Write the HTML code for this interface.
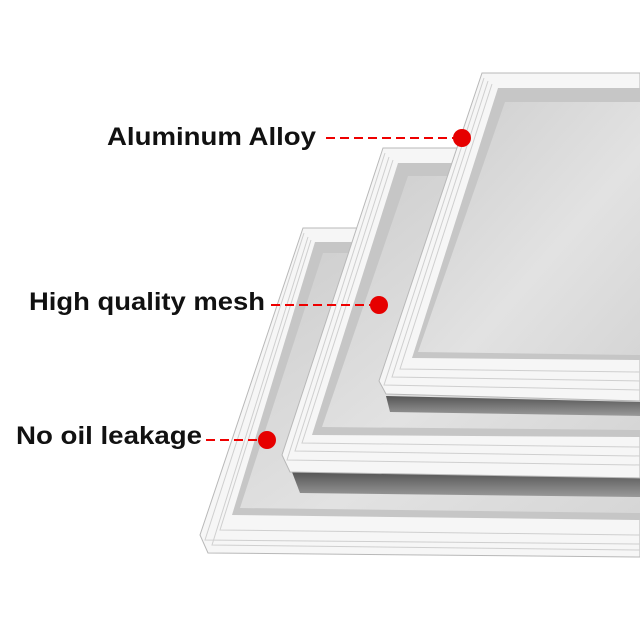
<!DOCTYPE html>
<html><head><meta charset="utf-8"><style>html,body{margin:0;padding:0;background:#fff}svg{display:block}</style></head>
<body>
<svg width="640" height="640" viewBox="0 0 640 640" xmlns="http://www.w3.org/2000/svg">
<defs>
<linearGradient id="mesh" x1="0" y1="0" x2="1" y2="1">
<stop offset="0" stop-color="#cdcdcd"/><stop offset="0.6" stop-color="#e2e2e2"/><stop offset="1" stop-color="#d6d6d6"/></linearGradient>
<linearGradient id="sh" x1="0" y1="0" x2="0" y2="1">
<stop offset="0" stop-color="#555"/><stop offset="1" stop-color="#9a9a9a"/></linearGradient>
</defs>
<!-- Frame 3 -->
<polygon points="303,228 640,228 640,557 208,553 200,535" fill="#f6f6f6" stroke="#b8b8b8" stroke-width="1"/>
<polygon points="315,242 640,242 640,520 232,515" fill="#c6c6c6"/>
<polygon points="323,253 640,253 640,513 240,508" fill="url(#mesh)"/>
<g stroke="#cfcfcf" stroke-width="1" fill="none">
<polyline points="304,233 205,540 640,544"/><polyline points="308,237 212,545 640,550"/><polyline points="311,240 220,530 640,535"/>
</g>
<polygon points="292,472 640,478 640,497 300,493" fill="url(#sh)"/>
<!-- Frame 2 -->
<polygon points="383,148 640,148 640,478 290,472 282,455" fill="#f6f6f6" stroke="#b8b8b8" stroke-width="1"/>
<polygon points="398,163 640,163 640,437 312,435" fill="#c6c6c6"/>
<polygon points="408,176 640,176 640,430 322,427" fill="url(#mesh)"/>
<g stroke="#cfcfcf" stroke-width="1" fill="none">
<polyline points="385,153 287,460 640,465"/><polyline points="389,157 295,451 640,456"/><polyline points="393,160 302,443 640,447"/>
</g>
<polygon points="386,396 640,402 640,416 390,412" fill="url(#sh)"/>
<!-- Frame 1 -->
<polygon points="482,73 640,73 640,401 386,394 379,381" fill="#f6f6f6" stroke="#b8b8b8" stroke-width="1"/>
<polygon points="498,88 640,88 640,360 412,358" fill="#c6c6c6"/>
<polygon points="505,102 640,102 640,355 418,352" fill="url(#mesh)"/>
<g stroke="#cfcfcf" stroke-width="1" fill="none">
<polyline points="484,78 384,385 640,390"/><polyline points="488,81 392,377 640,381"/><polyline points="492,84 400,369 640,372"/>
</g>
<g font-family="Liberation Sans, Arial, sans-serif" font-weight="bold" font-size="25" fill="#111">
<text x="107" y="145" textLength="209" lengthAdjust="spacingAndGlyphs">Aluminum Alloy</text>
<text x="29" y="310" textLength="236" lengthAdjust="spacingAndGlyphs">High quality mesh</text>
<text x="16" y="444" textLength="186" lengthAdjust="spacingAndGlyphs">No oil leakage</text>
</g>
<g stroke="#e00" stroke-width="2" stroke-dasharray="9,5">
<line x1="326" y1="138" x2="455" y2="138"/>
<line x1="271" y1="305" x2="372" y2="305"/>
<line x1="206" y1="440" x2="262" y2="440"/>
</g>
<g fill="#e60000">
<circle cx="462" cy="138" r="9"/><circle cx="379" cy="305" r="9"/><circle cx="267" cy="440" r="9"/>
</g>
</svg>
</body></html>
